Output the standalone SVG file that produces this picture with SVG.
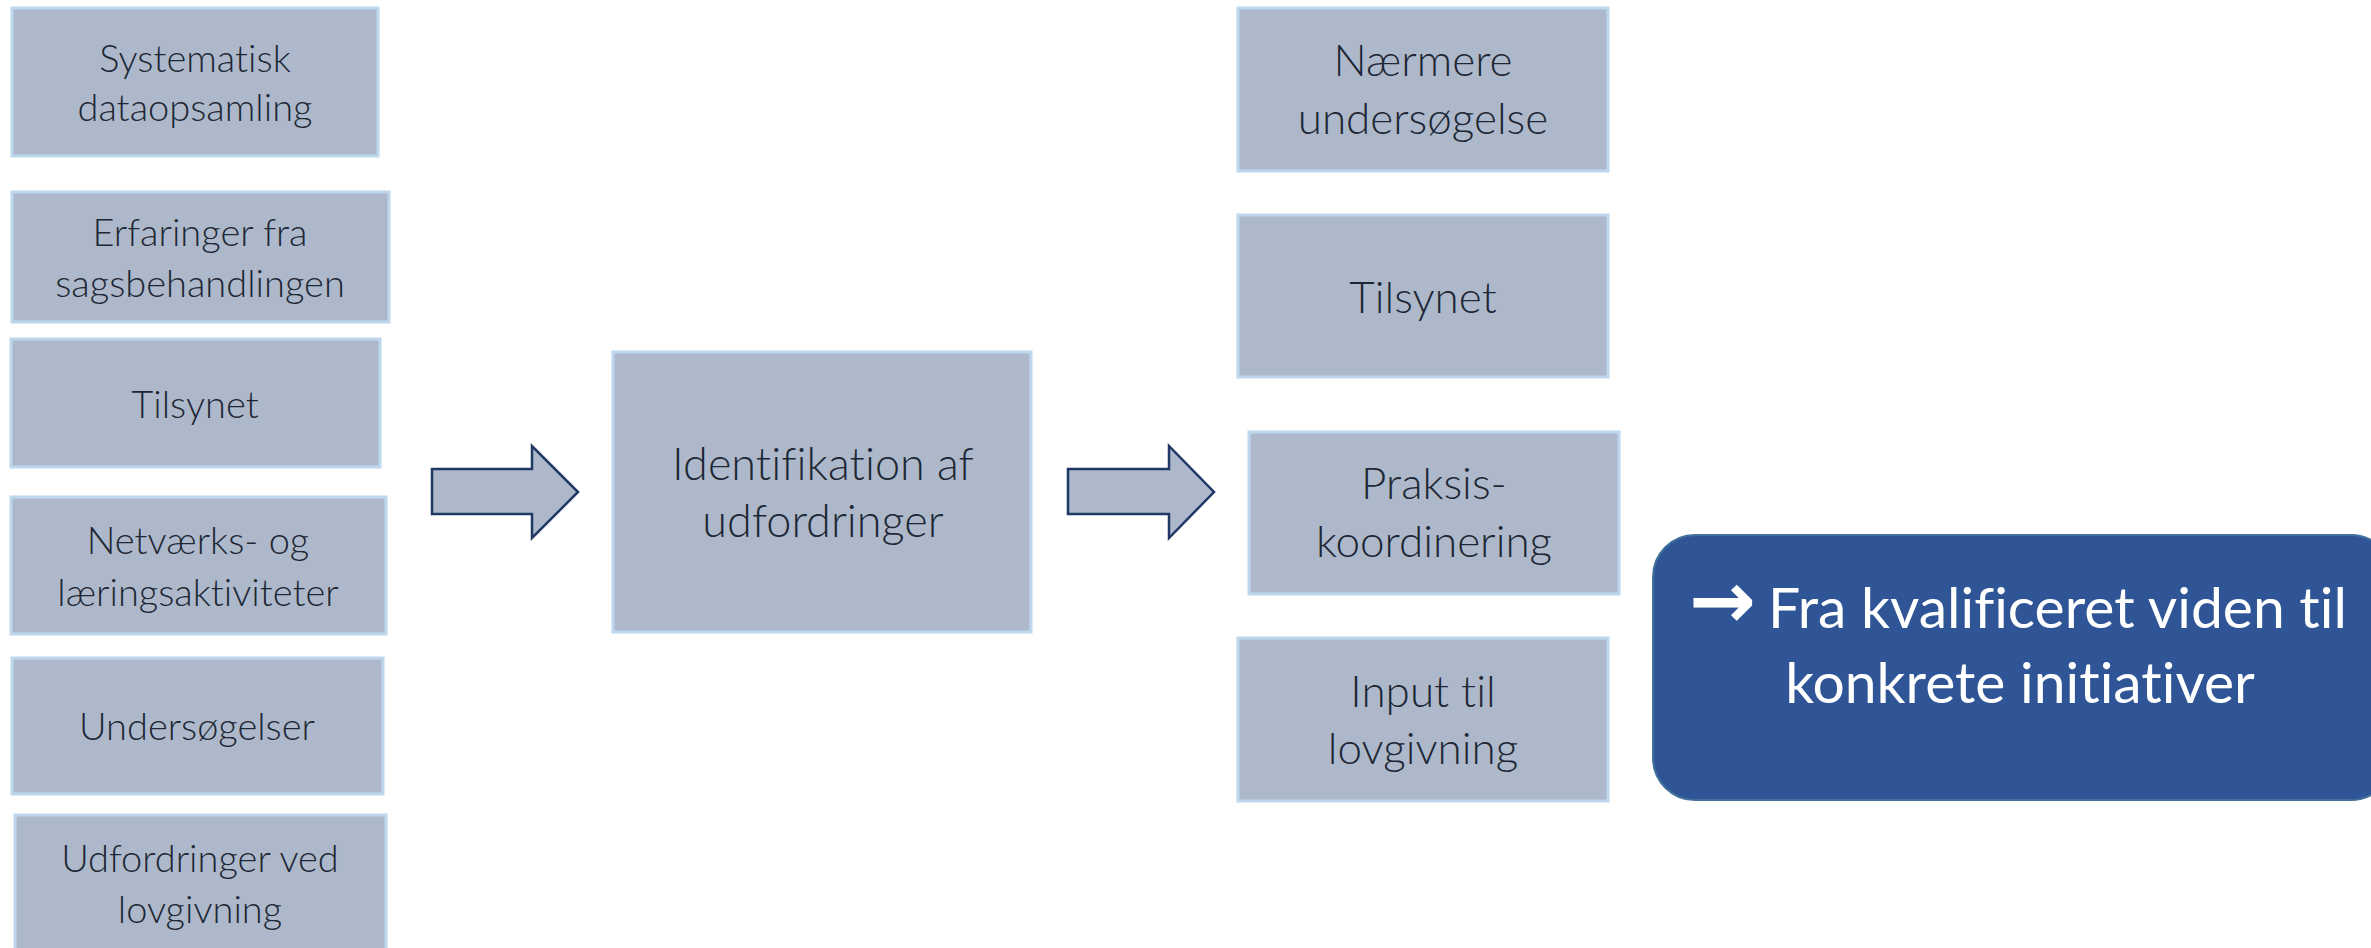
<svg xmlns="http://www.w3.org/2000/svg" width="2371" height="948" viewBox="0 0 2371 948">
<style>
.box{fill:#ADB9CA;stroke:#BDD7EE;stroke-width:3}
.t{font-family:Lato,"Liberation Sans",sans-serif;font-weight:300;fill:#1E2735;text-anchor:middle;font-size:38px;font-variant-ligatures:none}
.tr{font-size:44px}
.tc{font-size:45px}
.arr{fill:#ADB9CA;stroke:#1F3864;stroke-width:2.5;stroke-linejoin:miter}
.blue{fill:#2F5597;stroke:#41719C;stroke-width:2}
.tb{font-family:Lato,"Liberation Sans",sans-serif;font-weight:400;fill:#FFFFFF;text-anchor:middle;font-size:57px;font-variant-ligatures:none}
.ar{font-family:"Noto Sans","DejaVu Sans",sans-serif;font-weight:700;font-size:80px}
</style>
<rect width="2371" height="948" fill="#FFFFFF"/>
<g id="n1"><rect class="box" x="12" y="8" width="366" height="148"/>
<text class="t" x="195" y="72">Systematisk</text><text class="t" x="195" y="121">dataopsamling</text></g>
<g id="n2"><rect class="box" x="12" y="192" width="377" height="130"/>
<text class="t" x="200" y="246">Erfaringer fra</text><text class="t" x="200" y="297">sagsbehandlingen</text></g>
<g id="n3"><rect class="box" x="11" y="339" width="369" height="128"/>
<text class="t" x="195" y="418">Tilsynet</text></g>
<g id="n4"><rect class="box" x="11" y="497" width="375" height="137"/>
<text class="t" x="198" y="554">Netværks- og</text><text class="t" x="198" y="606">læringsaktiviteter</text></g>
<g id="n5"><rect class="box" x="12" y="658" width="371" height="136"/>
<text class="t" x="197" y="740">Undersøgelser</text></g>
<g id="n6"><rect class="box" x="15" y="815" width="371" height="145"/>
<text class="t" x="200" y="872">Udfordringer ved</text><text class="t" x="200" y="923">lovgivning</text></g>
<g id="n7"><rect class="box" x="613" y="352" width="418" height="280"/>
<text class="t tc" x="823" y="480">Identifikation af</text><text class="t tc" x="823" y="537">udfordringer</text></g>
<g id="n8"><rect class="box" x="1238" y="8" width="370" height="163"/>
<text class="t tr" x="1423" y="76">Nærmere</text><text class="t tr" x="1423" y="134">undersøgelse</text></g>
<g id="n9"><rect class="box" x="1238" y="215" width="370" height="162"/>
<text class="t tr" x="1423" y="313">Tilsynet</text></g>
<g id="n10"><rect class="box" x="1249" y="432" width="370" height="162"/>
<text class="t tr" x="1434" y="499">Praksis-</text><text class="t tr" x="1434" y="557">koordinering</text></g>
<g id="n11"><rect class="box" x="1238" y="638" width="370" height="163"/>
<text class="t tr" x="1423" y="707">Input til</text><text class="t tr" x="1423" y="764">lovgivning</text></g>
<g id="n12"><rect class="blue" x="1653" y="535" width="740" height="265" rx="42" ry="42"/>
<text class="tb" y="628" style="text-anchor:start"><tspan class="ar" x="1689">→</tspan><tspan x="1768"> </tspan><tspan x="1768">Fra kvalificeret viden til</tspan></text><text class="tb" x="2020" y="703">konkrete initiativer</text></g>
<g id="connectors">
<polygon class="arr" points="432,469 532,469 532,446 578,492 532,538 532,514 432,514"/>
<polygon class="arr" points="1068,469 1169,469 1169,446 1214,492 1169,538 1169,514 1068,514"/>
</g>
</svg>
